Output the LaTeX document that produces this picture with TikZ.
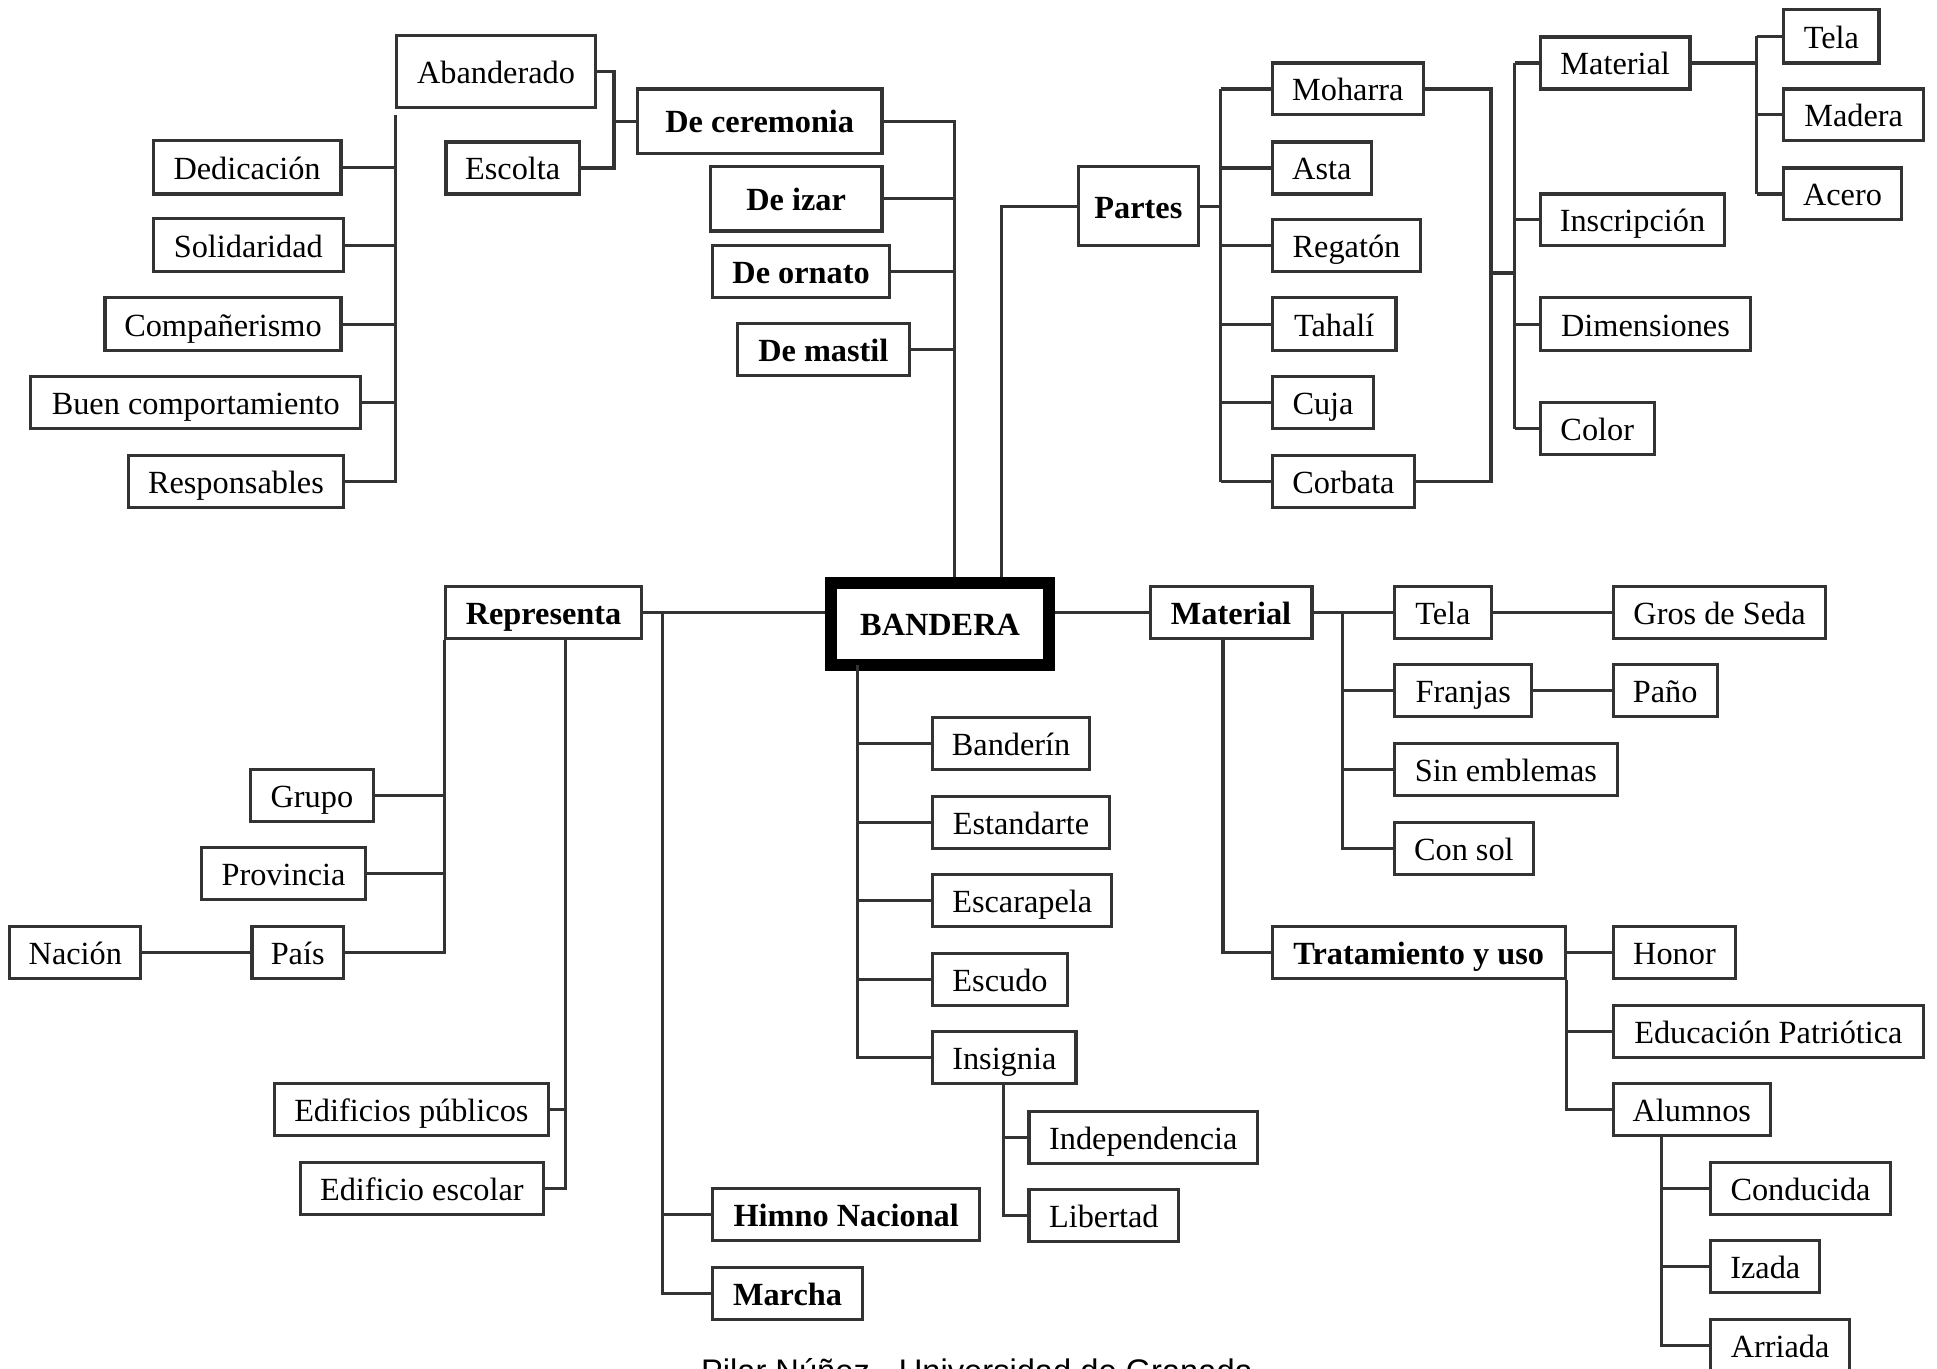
\documentclass[tikz,border=0pt]{standalone}
\usepackage{fontspec}
\setmainfont{Liberation Serif}
\newfontfamily\creditfont{Liberation Sans}

\begin{document}
\begin{tikzpicture}[x=0.0125cm, y=-0.0125cm,
    spot/.style n args={4}{minimum width={(#3-#1)*0.125mm}, minimum height={(#4-#2)*0.125mm},
      at={({(#1+#3)/2},{(#2+#4)/2})}},
    cbox/.style={draw=black!80, line width=0.9pt, inner sep=0pt, fill=white,
      text height=0.68em, text depth=0pt, font=\fontsize{9.3}{11}\selectfont},
    hbox/.style={cbox, font=\fontsize{9.3}{11}\selectfont\bfseries},
    link/.style={draw=black!80, line width=0.9pt}]
    \useasboundingbox[fill=white] (0,0) rectangle (1568,1108);

    % centre
    \node[hbox, draw=black, line width=3.5pt, spot={673}{472}{849}{538}] (bandera) {BANDERA};

    % tipos de bandera
    \node[cbox, spot={321}{29}{482}{87}] (abander) {Abanderado};
    \node[cbox, spot={361}{115}{469}{157}] (escolta) {Escolta};
    \node[hbox, spot={516}{72}{714}{124}] (decer) {De ceremonia};
    \node[hbox, spot={575}{135}{714}{187}] (deizar) {De izar};
    \node[hbox, spot={577}{199}{720}{241}] (deornato) {De ornato};
    \node[hbox, spot={597}{262}{736}{304}] (demastil) {De mastil};
    \node[cbox, spot={124}{114}{276}{157}] (dedic) {Dedicación};
    \node[cbox, spot={124}{177}{278}{220}] (solid) {Solidaridad};
    \node[cbox, spot={85}{241}{276}{284}] (compa) {Compañerismo};
    \node[cbox, spot={25}{305}{292}{347}] (buen) {Buen comportamiento};
    \node[cbox, spot={104}{369}{278}{411}] (resp) {Responsables};

    % partes
    \node[hbox, spot={873}{135}{970}{199}] (partes) {Partes};
    \node[cbox, spot={1030}{51}{1152}{93}] (moharra) {Moharra};
    \node[cbox, spot={1030}{115}{1110}{157}] (asta) {Asta};
    \node[cbox, spot={1030}{178}{1150}{220}] (regaton) {Regatón};
    \node[cbox, spot={1030}{241}{1130}{284}] (tahali) {Tahalí};
    \node[cbox, spot={1030}{305}{1112}{347}] (cuja) {Cuja};
    \node[cbox, spot={1030}{369}{1145}{411}] (corbata) {Corbata};
    \node[cbox, spot={1247}{30}{1368}{72}] (mattop) {Material};
    \node[cbox, spot={1247}{157}{1396}{199}] (inscr) {Inscripción};
    \node[cbox, spot={1247}{241}{1417}{284}] (dimen) {Dimensiones};
    \node[cbox, spot={1247}{326}{1339}{368}] (color) {Color};
    \node[cbox, spot={1444}{8}{1521}{51}] (telatop) {Tela};
    \node[cbox, spot={1444}{72}{1557}{114}] (madera) {Madera};
    \node[cbox, spot={1444}{136}{1539}{178}] (acero) {Acero};

    % representa
    \node[hbox, spot={361}{475}{519}{517}] (repres) {Representa};
    \node[cbox, spot={203}{623}{302}{665}] (grupo) {Grupo};
    \node[cbox, spot={163}{686}{296}{728}] (prov) {Provincia};
    \node[cbox, spot={204}{750}{278}{792}] (pais) {País};
    \node[cbox, spot={8}{750}{114}{792}] (nacion) {Nación};
    \node[cbox, spot={222}{877}{444}{919}] (edpub) {Edificios públicos};
    \node[cbox, spot={243}{941}{440}{983}] (edesc) {Edificio escolar};
    \node[hbox, spot={577}{962}{793}{1004}] (himno) {Himno Nacional};
    \node[hbox, spot={577}{1026}{698}{1068}] (marcha) {Marcha};

    % simbolos
    \node[cbox, spot={755}{581}{882}{623}] (banderin) {Banderín};
    \node[cbox, spot={755}{645}{898}{687}] (estand) {Estandarte};
    \node[cbox, spot={755}{708}{900}{750}] (escarap) {Escarapela};
    \node[cbox, spot={755}{772}{864}{814}] (escudo) {Escudo};
    \node[cbox, spot={755}{835}{871}{877}] (insignia) {Insignia};
    \node[cbox, spot={833}{900}{1018}{942}] (indep) {Independencia};
    \node[cbox, spot={833}{963}{954}{1005}] (libertad) {Libertad};

    % material y uso
    \node[hbox, spot={931}{475}{1062}{517}] (matbold) {Material};
    \node[cbox, spot={1129}{475}{1207}{517}] (telab) {Tela};
    \node[cbox, spot={1306}{475}{1478}{517}] (gros) {Gros de Seda};
    \node[cbox, spot={1129}{538}{1240}{580}] (franjas) {Franjas};
    \node[cbox, spot={1306}{538}{1390}{580}] (pano) {Paño};
    \node[cbox, spot={1129}{602}{1309}{644}] (sinemb) {Sin emblemas};
    \node[cbox, spot={1129}{666}{1241}{708}] (consol) {Con sol};
    \node[hbox, spot={1030}{750}{1267}{792}] (tratam) {Tratamiento y uso};
    \node[cbox, spot={1306}{750}{1405}{792}] (honor) {Honor};
    \node[cbox, spot={1306}{814}{1557}{856}] (educ) {Educación Patriótica};
    \node[cbox, spot={1306}{877}{1433}{919}] (alumnos) {Alumnos};
    \node[cbox, spot={1385}{941}{1530}{983}] (conduc) {Conducida};
    \node[cbox, spot={1385}{1004}{1473}{1046}] (izada) {Izada};
    \node[cbox, spot={1385}{1068}{1497}{1110}] (arriada) {Arriada};

    \node[anchor=base west, inner sep=0pt, font=\creditfont\fontsize{9.4}{11}\selectfont]
      (credit) at (567,1119) {Pilar Núñez - Universidad de Granada};

    % junctions
    \coordinate (j1) at (497,98);
    \coordinate (lv) at (320,93);
    \coordinate (cv) at (773,98);
    \coordinate (pv) at (811,167);
    \coordinate (mv) at (988,167);
    \coordinate (rv) at (1207,221);
    \coordinate (sv) at (1226,221);
    \coordinate (tv) at (1422,51);
    \coordinate (hv) at (536,496);
    \coordinate (ev) at (458,517);
    \coordinate (bv) at (694,538);
    \coordinate (iv) at (812,877);
    \coordinate (fv) at (1087,496);
    \coordinate (mb) at (990,517);
    \coordinate (av) at (1345,919);

    % ceremonia
    \draw[link] (abander.east) -| (j1) |- (escolta.east);
    \draw[link] (j1) -- (decer.west);
    \draw[link] (lv) |- (resp.east);
    \foreach \n in {dedic,solid,compa,buen}
      \draw[link] (lv |- \n.east) -- (\n.east);
    \draw[link] (decer.east) -- (cv) -- (cv |- bandera.north);
    \foreach \n in {deizar,deornato,demastil}
      \draw[link] (\n.east) -- (cv |- \n.east);

    % partes
    \draw[link] (partes.west) -- (pv) -- (pv |- bandera.north);
    \draw[link] (partes.east) -- (mv);
    \draw[link] (mv |- moharra.west) -- (mv |- corbata.west);
    \foreach \n in {moharra,asta,regaton,tahali,cuja,corbata}
      \draw[link] (mv |- \n.west) -- (\n.west);
    \draw[link] (moharra.east) -| (rv) |- (corbata.east);
    \draw[link] (rv) -- (sv);
    \draw[link] (sv |- mattop.west) -- (sv |- color.west);
    \foreach \n in {mattop,inscr,dimen,color}
      \draw[link] (sv |- \n.west) -- (\n.west);
    \draw[link] (mattop.east) -- (tv);
    \draw[link] (tv |- telatop.west) -- (tv |- acero.west);
    \foreach \n in {telatop,madera,acero}
      \draw[link] (tv |- \n.west) -- (\n.west);

    % representa
    \draw[link] (repres.east) -- (bandera.west |- repres.east);
    \draw[link] (hv) |- (marcha.west);
    \draw[link] (hv |- himno.west) -- (himno.west);
    \draw[link] (repres.south west) |- (pais.east);
    \foreach \n in {grupo,prov}
      \draw[link] (repres.south west |- \n.east) -- (\n.east);
    \draw[link] (nacion.east) -- (pais.west);
    \draw[link] (ev) |- (edesc.east);
    \draw[link] (ev |- edpub.east) -- (edpub.east);

    % simbolos
    \draw[link] (bv) |- (insignia.west);
    \foreach \n in {banderin,estand,escarap,escudo}
      \draw[link] (bv |- \n.west) -- (\n.west);
    \draw[link] (iv) |- (libertad.west);
    \draw[link] (iv |- indep.west) -- (indep.west);

    % material y uso
    \draw[link] (bandera.east |- matbold.west) -- (matbold.west);
    \draw[link] (matbold.east) -- (telab.west);
    \draw[link] (fv) |- (consol.west);
    \foreach \n in {franjas,sinemb}
      \draw[link] (fv |- \n.west) -- (\n.west);
    \draw[link] (telab.east) -- (gros.west);
    \draw[link] (franjas.east) -- (pano.west);
    \draw[link] (mb) |- (tratam.west);
    \draw[link] (tratam.east) -- (honor.west);
    \draw[link] (tratam.south east) |- (alumnos.west);
    \draw[link] (tratam.south east |- educ.west) -- (educ.west);
    \draw[link] (av) |- (arriada.west);
    \foreach \n in {conduc,izada}
      \draw[link] (av |- \n.west) -- (\n.west);
\end{tikzpicture}
\end{document}
